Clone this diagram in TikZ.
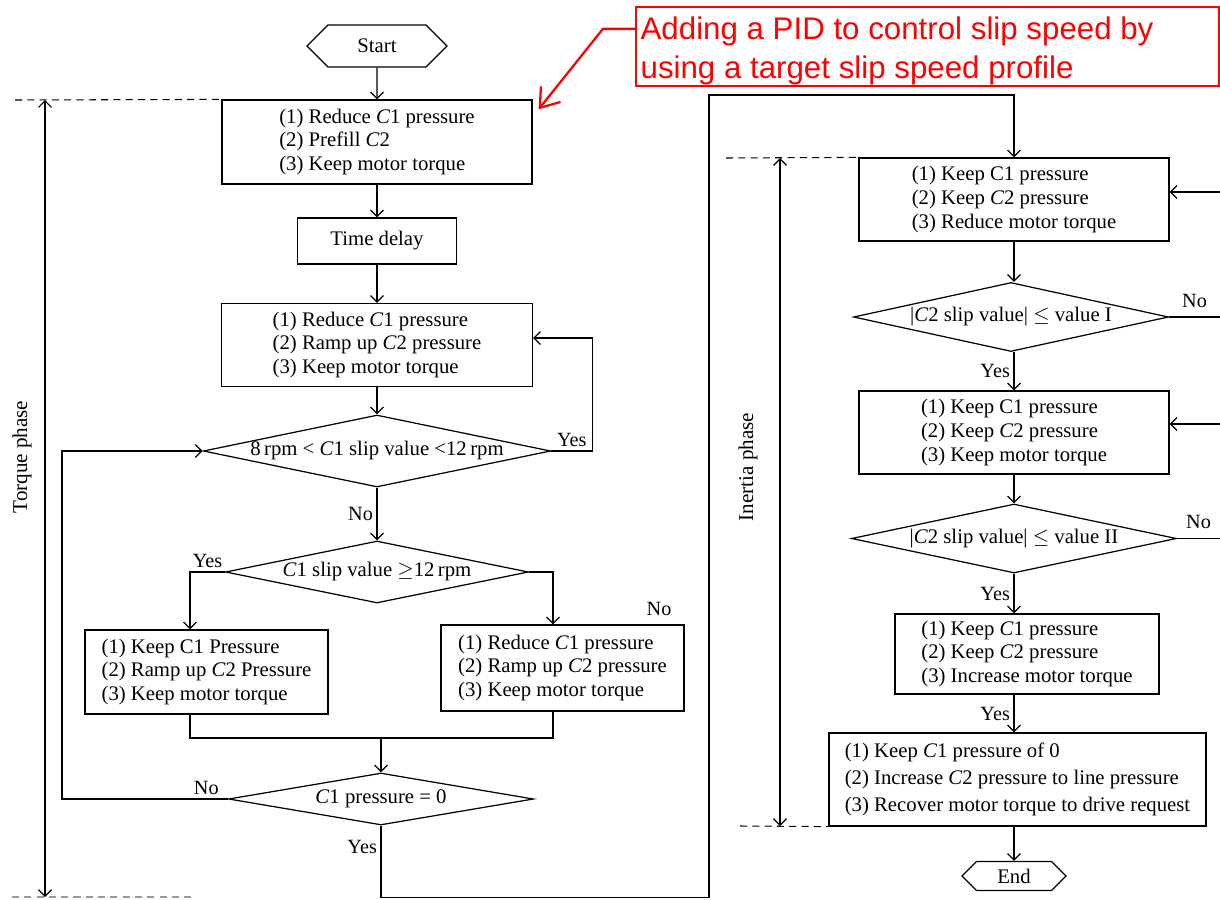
\documentclass[tikz,border=0pt]{standalone}
\usepackage{fontspec}
\setmainfont{Liberation Serif}
\newfontfamily\notefont{Liberation Sans}
\usetikzlibrary{shapes,arrows.meta,positioning,calc}

\newcommand{\Ci}{\textit{C}}

\begin{document}
\begin{tikzpicture}[x=0.02cm, y=-0.02cm, line width=0.7pt,
    box/.style={draw, rectangle, align=left, inner sep=0pt, font=\fontsize{11.8}{13.5}\selectfont},
    dec/.style={draw, diamond, aspect=5, inner sep=0pt, font=\fontsize{11.8}{13.5}\selectfont},
    term/.style={draw, signal, signal to=east and west, signal pointer angle=90, inner sep=0pt, font=\fontsize{11.8}{13.5}\selectfont},
    arr/.style={-{Straight Barb[length=1.3mm,width=2.6mm]}},
    twoarr/.style={{Straight Barb[length=1.3mm,width=2.6mm]}-{Straight Barb[length=1.3mm,width=2.6mm]}},
    lbl/.style={font=\fontsize{11.5}{13}\selectfont, inner sep=2pt},
    phase/.style={dash pattern=on 4pt off 3pt, line width=0.6pt},
    phasetext/.style={rotate=90, font=\fontsize{12}{14}\selectfont}]
    \useasboundingbox (0,0) rectangle (1220,899);

    \node[term, minimum width=2.8cm, minimum height=0.84cm] (start) at (377,46) {Start};
    \node[box, minimum width=6.2cm, minimum height=1.68cm] (b1) at (377,142) {(1) Reduce \Ci1 pressure\\(2) Prefill \Ci2\\(3) Keep motor torque};
    \node[box, minimum width=3.18cm, minimum height=0.92cm] (delay) at (377,241) {Time delay};
    \node[box, minimum width=6.22cm, minimum height=1.66cm] (b2) at (377,345) {(1) Reduce \Ci1 pressure\\(2) Ramp up \Ci2 pressure\\(3) Keep motor torque};
    \node[dec, minimum width=6.92cm, minimum height=1.44cm] (d1) at (377,451) {8\,rpm < \Ci1 slip value <12\,rpm};
    \node[dec, minimum width=6.06cm, minimum height=1.24cm] (d2) at (377,572) {\Ci1 slip value $\geq$12\,rpm};
    \node[box, minimum width=4.86cm, minimum height=1.68cm] (b3) at (206.5,672) {(1) Keep C1 Pressure\\(2) Ramp up \Ci2 Pressure\\(3) Keep motor torque};
    \node[box, minimum width=4.86cm, minimum height=1.72cm] (b4) at (562.5,668) {(1) Reduce \Ci1 pressure\\(2) Ramp up \Ci2 pressure\\(3) Keep motor torque};
    \coordinate (merge) at (381,738);
    \node[dec, minimum width=6.1cm, minimum height=1.04cm] (d3) at (381,799) {\Ci1 pressure = 0};

    \node[box, minimum width=6.2cm, minimum height=1.66cm] (b5) at (1014,199.5) {(1) Keep C1 pressure\\(2) Keep \Ci2 pressure\\(3) Reduce motor torque};
    \node[dec, minimum width=6.3cm, minimum height=1.38cm] (d4) at (1011,317) {|\Ci2 slip value| $\leq$ value I};
    \node[box, minimum width=6.2cm, minimum height=1.66cm] (b6) at (1014,432.5) {(1) Keep C1 pressure\\(2) Keep \Ci2 pressure\\(3) Keep motor torque};
    \node[dec, minimum width=6.5cm, minimum height=1.38cm] (d5) at (1014,538.5) {|\Ci2 slip value| $\leq$ value II};
    \node[box, minimum width=5.28cm, minimum height=1.6cm] (b7) at (1027,654) {(1) Keep \Ci1 pressure\\(2) Keep \Ci2 pressure\\(3) Increase motor torque};
    \node[box, minimum width=7.54cm, minimum height=1.86cm, font=\fontsize{11.8}{15.3}\selectfont] (b8) at (1017.5,779.5) {(1) Keep \Ci1 pressure of 0\\(2) Increase \Ci2 pressure to line pressure\\(3) Recover motor torque to drive request};
    \node[term, minimum width=2.08cm, minimum height=0.58cm] (finish) at (1014,876) {End};

    \draw[arr] (start) -- (b1);
    \draw[arr] (b1) -- (delay);
    \draw[arr] (delay) -- (b2);
    \draw[arr] (b2) -- (d1);
    \draw[arr] (d1.east) -- node[lbl, above] (y1) {Yes} ++(41,0) |- ($(b2.east)+(0,-7)$);
    \draw[arr] (d1) -- node[lbl, left] (n1) {No} (d2);
    \draw[arr] (d2.west) -| node[lbl, above, pos=0.25] (y2) {Yes} ($(b3.north)+(-16.5,0)$);
    \draw[arr] (d2.east) -| ($(b4.north)+(-9.5,0)$);
    \node[lbl] (n2) at (659,609) {No};
    \draw ($(b3.south)+(-16.5,0)$) |- (merge) -| ($(b4.south)+(-9.5,0)$);
    \draw[arr] (merge) -- (d3.north);
    \draw[arr] (d3.west) -- node[lbl, above, pos=0.13] (n3) {No} ++(-166,0) |- (d1.west);
    \draw[arr] (d3.south) -- node[lbl, left, pos=0.3] (y3) {Yes} ++(0,72) -| (709,95) -| (b5.north);

    \draw[arr] (b5.south) -- (b5.south |- d4.north);
    \draw[arr] (d4.south -| b6.north) -- node[lbl, left] (y4) {Yes} (b6.north);
    \draw[arr] (b6) -- (d5);
    \draw[arr] (d5) -- node[lbl, left] (y5) {Yes} (d5.south |- b7.north);
    \draw[arr] (b7.south -| finish) -- node[lbl, left] (y6) {Yes} (b8.north -| finish);
    \draw[arr] (b8.south -| finish) -- (finish.north);

    \coordinate (in1) at (1220,192);
    \coordinate (in2) at (1220,424);
    \coordinate (out1) at (1220,317);
    \coordinate (out2) at (1220,538.5);
    \draw[arr] (in1) -- (in1 -| b5.east);
    \draw[arr] (in2) -- (in2 -| b6.east);
    \draw (d4.east) -- node[lbl, above=3pt] (n4) {No} (out1);
    \draw (d5.east) -- node[lbl, above=3pt] (n5) {No} (out2);

    \coordinate (tqa) at (15,100);
    \coordinate (tqtop) at (45,100);
    \coordinate (tqbot) at (45,897);
    \coordinate (tqb) at (12,897);
    \coordinate (tqc) at (195,897);
    \draw[phase] (tqa) -- (b1.north west);
    \draw[phase, black!40] (tqb) -- (tqc);
    \draw[twoarr] (tqtop) -- (tqbot);
    \node[phasetext] (tq) at (22,457) {Torque phase};

    \coordinate (ina) at (726,158);
    \coordinate (intop) at (780,158);
    \coordinate (inbot) at (780,826);
    \coordinate (inb) at (740,826);
    \draw[phase] (ina) -- (b5.north west);
    \draw[phase] (inb) -- (b8.south west);
    \draw[twoarr] (intop) -- (inbot);
    \node[phasetext] (ip) at (748,467) {Inertia phase};

    \node[draw=red, line width=1.3pt, minimum width=11.66cm, minimum height=1.58cm, inner sep=0pt] (note) at (927.5,46.5) {};
    \node[text=red, font=\notefont\fontsize{17.8}{22.6}\selectfont, align=left, anchor=west, inner sep=0pt] (notetext) at (640,51) {Adding a PID to control slip speed by\\using a target slip speed profile};
    \draw[red, line width=1.3pt, -{Straight Barb[length=3.5mm,width=5mm]}] ($(note.north west)+(0,23)$) -- ++(-32,0) -- ($(b1.north east)+(6,10)$);
\end{tikzpicture}
\end{document}
